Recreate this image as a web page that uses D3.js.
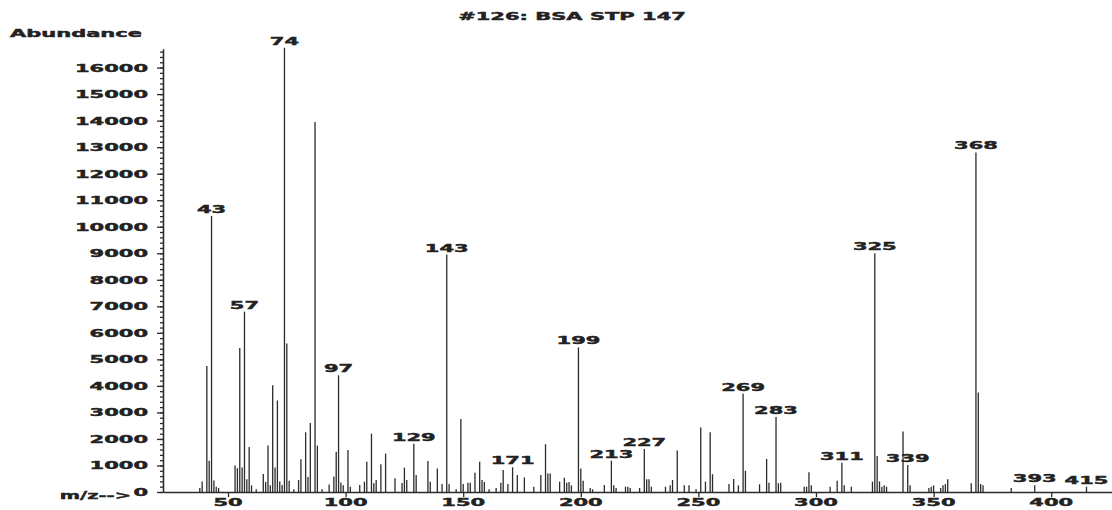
<!DOCTYPE html>
<html>
<head>
<meta charset="utf-8">
<script src="https://cdn.jsdelivr.net/npm/d3@7"></script>
<style>
  body { margin: 0; background: #fff; }
  text { font-family: "DejaVu Sans", sans-serif; font-weight: bold; font-size: 10px; fill: #222; stroke: #222; stroke-width: 0.4; }
</style>
</head>
<body>
<div id="spectrum"></div>
<script>
// m/z values and their abundances
const mz = [38, 39, 41, 42, 43, 44, 45, 46, 53, 54, 55, 56, 57, 58, 59, 60, 62,
  65, 66, 67, 68, 69, 70, 71, 72, 73, 74, 75, 76, 78, 80, 81, 83, 84, 85, 87, 88, 90,
  93, 95, 96, 97, 98, 99, 101, 102, 106, 108, 109, 111, 112, 113, 115, 117, 121,
  124, 125, 126, 129, 130, 135, 136, 139, 141, 143, 144, 147, 149, 150, 152, 153,
  155, 157, 158, 159, 161, 164, 166, 167, 169, 171, 173, 176, 180, 183, 185, 186,
  187, 191, 193, 194, 195, 196, 199, 200, 201, 204, 205, 210, 213, 214, 215, 219,
  220, 221, 225, 227, 228, 229, 230, 236, 238, 239, 241, 244, 246, 249, 251, 253,
  255, 256, 263, 265, 267, 269, 270, 276, 279, 280, 283, 284, 285, 295, 296, 297,
  298, 306, 309, 311, 312, 315, 324, 325, 326, 327, 328, 329, 330, 337, 339, 340,
  348, 349, 350, 353, 354, 355, 356, 366, 368, 369, 370, 371, 383, 393, 415];
const abundance = [150, 400, 4750, 1180, 10400, 430, 200, 150, 1000, 900, 5430, 920, 6800, 480, 1700, 250, 100,
  680, 380, 1750, 250, 4020, 920, 3450, 400, 260, 16750, 5600, 420, 100, 450, 1230, 2250, 570, 2600, 13950, 1750, 100,
  280, 580, 1520, 4400, 360, 250, 1580, 200, 260, 390, 1140, 2200, 330, 450, 1050, 1450, 520,
  340, 920, 450, 1820, 640, 1170, 390, 890, 300, 8950, 300, 100, 2750, 300, 350, 350,
  730, 1140, 450, 380, 100, 150, 350, 830, 300, 930, 640, 550, 200, 640, 1800, 700,
  700, 390, 540, 350, 380, 250, 5450, 890, 420, 150, 100, 260, 1180, 250, 150, 200,
  200, 150, 150, 1620, 480, 480, 200, 200, 250, 450, 1560, 250, 250, 100, 2430, 390,
  2250, 670, 300, 490, 250, 3700, 800, 290, 1245, 350, 2830, 330, 350, 200, 200, 740,
  250, 200, 420, 1100, 250, 200, 390, 9000, 1360, 400, 200, 250, 200, 2280, 1020, 250,
  150, 200, 250, 150, 250, 300, 480, 330, 12800, 3750, 300, 250, 150, 250, 200];
const labeled = [43, 57, 74, 97, 129, 143, 171, 199, 213, 227, 269, 283, 311, 325, 339, 368, 393, 415];
const xTicks = [50, 100, 150, 200, 250, 300, 350, 400];
const yMajor = d3.range(0, 16001, 1000);
const yMinor = d3.range(0, 16601, 200);
const title = "#126: BSA STP 147";

const width = 1112, height = 510;
const ink = "#2b2b2b";

const peaks = mz.map((m, i) => ({ m: m, a: abundance[i] }));

const x = d3.scaleLinear().domain([22.36, 425.85]).range([163, 1112]);
const y = d3.scaleLinear().domain([0, 16700]).range([492, 49]);

const svg = d3.select("#spectrum").append("svg")
  .attr("width", width).attr("height", height);

const wide = (g, tx, ty, str, anchor, sx = 2.1) =>
  g.append("text")
    .attr("transform", `translate(${tx},${ty}) scale(${sx},1)`)
    .attr("text-anchor", anchor)
    .text(str);

// title and axis names
wide(svg, 572, 20, title, "middle");
wide(svg, 10, 37, "Abundance", "start");
wide(svg, 131, 499, "m/z-->", "end", 1.95);

// y axis: minor then major ticks
svg.append("g").attr("transform", "translate(163,0)")
  .call(d3.axisLeft(y).tickValues(yMinor).tickSize(3).tickSizeOuter(0).tickFormat(""))
  .call(g => g.selectAll("path,line").attr("stroke", ink).attr("stroke-width", 1.3));

svg.append("g").attr("transform", "translate(163,0)")
  .call(d3.axisLeft(y).tickValues(yMajor).tickSize(6).tickSizeOuter(0).tickFormat(""))
  .call(g => g.selectAll("path,line").attr("stroke", ink).attr("stroke-width", 1.3));

let gyl = svg.append("g");
yMajor.forEach(v => wide(gyl, 148, y(v) + 4, v, "end"));

// x axis
svg.append("g").attr("transform", "translate(0,492)")
  .call(d3.axisBottom(x).tickValues(xTicks).tickSize(5).tickSizeOuter(0).tickFormat(""))
  .call(g => g.selectAll("path,line").attr("stroke", ink).attr("stroke-width", 1.3));

let gxl = svg.append("g");
xTicks.forEach(v => wide(gxl, x(v), 506, v, "middle"));

// spectrum lines
svg.append("g").selectAll("line")
  .data(peaks).enter().append("line")
  .attr("x1", d => x(d.m)).attr("x2", d => x(d.m))
  .attr("y1", y(0)).attr("y2", d => y(d.a))
  .attr("stroke", ink)
  .attr("stroke-width", 1.3);

// peak labels
let gl = svg.append("g");
peaks.filter(d => labeled.includes(d.m)).forEach(d => {
  wide(gl, x(d.m), y(d.a) - 3, d.m, "middle");
});
</script>
</body>
</html>
